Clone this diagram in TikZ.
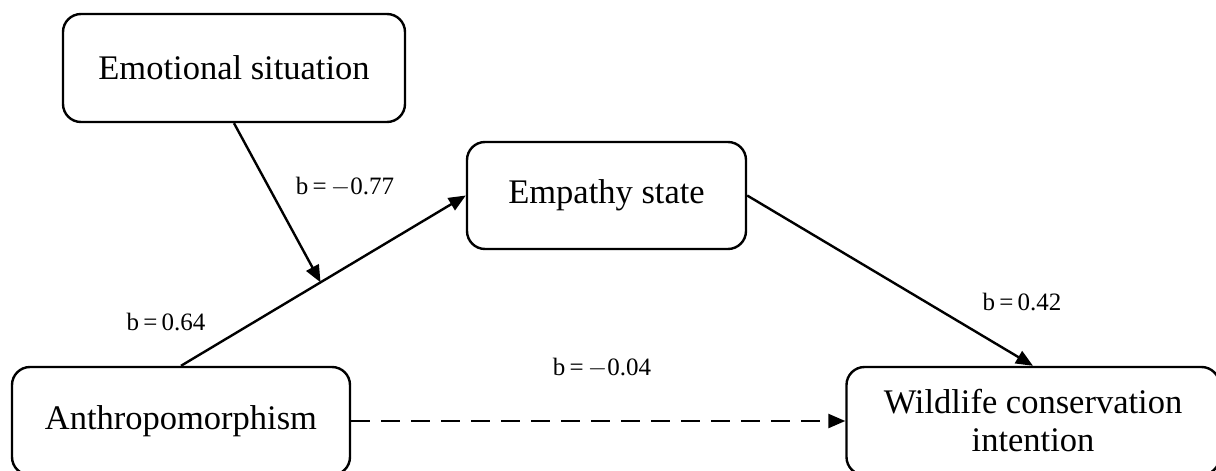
\documentclass[tikz,border=0pt]{standalone}
\usepackage{fontspec}
\setmainfont{Liberation Serif}
\usetikzlibrary{arrows.meta,shapes,positioning,calc}

\begin{document}
\begin{tikzpicture}[x=1pt, y=-1pt,
    box/.style={draw, rectangle, rounded corners=18pt, line width=2.4pt, minimum height=108pt, font=\fontsize{34.5}{38}\selectfont, align=center},
    coef/.style={font=\fontsize{25}{29}\selectfont},
    arrow/.style={-{Triangle[length=17pt, width=14pt]}, line width=2.4pt}
]
\useasboundingbox (0,0) rectangle (1216,471);

% Moderator
\node[box, minimum width=342pt] (emotion) at (234,68) {Emotional situation};

% Mediator
\node[box, minimum width=279pt, minimum height=107pt] (empathy) at (606.5,195.5) {Empathy state};

% Predictor and outcome
\node[box, minimum width=338pt] (anthro) at (181,421) {Anthropomorphism};
\node[box, minimum width=373pt] (wildlife) at (1033,421) {Wildlife conservation\\intention};

% Arrows
\draw[arrow] (anthro.north) -- (empathy.west);
\coordinate (modpoint) at ($(anthro.north)!0.49!(empathy.west)$);
\draw[arrow] (emotion.south) -- (modpoint);
\draw[arrow] (empathy.east) -- (wildlife.north);
\draw[arrow, dash pattern=on 19pt off 11pt] (anthro.east) -- (wildlife.west);

% Coefficients
\node[coef] (bmod) at (345,187) {b\,=\,$-$0.77};
\node[coef] (ba) at (166,322) {b\,=\,0.64};
\node[coef] (bb) at (1022,302) {b\,=\,0.42};
\node[coef] (bc) at (602,368) {b\,=\,$-$0.04};

\end{tikzpicture}
\end{document}
